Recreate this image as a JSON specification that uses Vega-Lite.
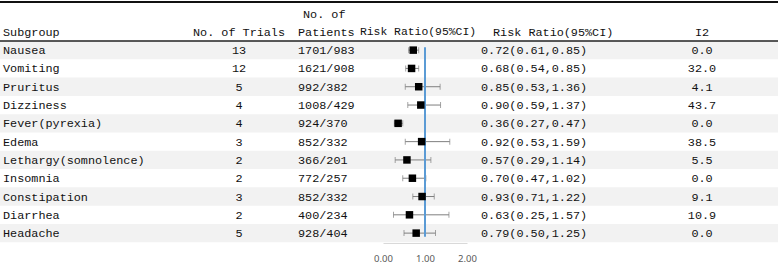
{
  "$schema": "https://vega.github.io/schema/vega-lite/v6.json",
  "padding": 0,
  "spacing": 0,
  "bounds": "flush",
  "background": "white",
  "datasets": {
    "rows": [
      {"row": 1, "subgroup": "Nausea", "trials": 13, "patients": "1701/983", "rr": 0.72, "lo": 0.61, "hi": 0.85, "ci": "0.72(0.61,0.85)", "i2": 0.0},
      {"row": 2, "subgroup": "Vomiting", "trials": 12, "patients": "1621/908", "rr": 0.68, "lo": 0.54, "hi": 0.85, "ci": "0.68(0.54,0.85)", "i2": 32.0},
      {"row": 3, "subgroup": "Pruritus", "trials": 5, "patients": "992/382", "rr": 0.85, "lo": 0.53, "hi": 1.36, "ci": "0.85(0.53,1.36)", "i2": 4.1},
      {"row": 4, "subgroup": "Dizziness", "trials": 4, "patients": "1008/429", "rr": 0.90, "lo": 0.59, "hi": 1.37, "ci": "0.90(0.59,1.37)", "i2": 43.7},
      {"row": 5, "subgroup": "Fever(pyrexia)", "trials": 4, "patients": "924/370", "rr": 0.36, "lo": 0.27, "hi": 0.47, "ci": "0.36(0.27,0.47)", "i2": 0.0},
      {"row": 6, "subgroup": "Edema", "trials": 3, "patients": "852/332", "rr": 0.92, "lo": 0.53, "hi": 1.59, "ci": "0.92(0.53,1.59)", "i2": 38.5},
      {"row": 7, "subgroup": "Lethargy(somnolence)", "trials": 2, "patients": "366/201", "rr": 0.57, "lo": 0.29, "hi": 1.14, "ci": "0.57(0.29,1.14)", "i2": 5.5},
      {"row": 8, "subgroup": "Insomnia", "trials": 2, "patients": "772/257", "rr": 0.70, "lo": 0.47, "hi": 1.02, "ci": "0.70(0.47,1.02)", "i2": 0.0},
      {"row": 9, "subgroup": "Constipation", "trials": 3, "patients": "852/332", "rr": 0.93, "lo": 0.71, "hi": 1.22, "ci": "0.93(0.71,1.22)", "i2": 9.1},
      {"row": 10, "subgroup": "Diarrhea", "trials": 2, "patients": "400/234", "rr": 0.63, "lo": 0.25, "hi": 1.57, "ci": "0.63(0.25,1.57)", "i2": 10.9},
      {"row": 11, "subgroup": "Headache", "trials": 5, "patients": "928/404", "rr": 0.79, "lo": 0.50, "hi": 1.25, "ci": "0.79(0.50,1.25)", "i2": 0.0}
    ]
  },
  "config": {
    "view": {"stroke": null},
    "text": {"font": "Liberation Mono", "fontSize": 11.8, "color": "#111", "baseline": "middle"}
  },
  "hconcat": [
    {
      "width": 188, "height": 243,
      "layer": [
        {"data": {"name": "rows"}, "transform": [{"filter": "datum.row % 2 == 1"}], "mark": {"type": "rect", "color": "#f2f2f2", "yOffset": -9.15, "y2Offset": 9.15}, "encoding": {"y": {"field": "row", "type": "quantitative", "scale": {"domain": [-1.74, 11.54], "reverse": true, "zero": false, "nice": false}, "axis": null}, "y2": {"field": "row"}}},
        {"data": {"values": [{}]}, "mark": {"type": "rect", "color": "#111", "yOffset": -1, "y2Offset": 1}, "encoding": {"y": {"datum": -1.63, "type": "quantitative"}, "y2": {"datum": -1.63}}},
        {"data": {"values": [{}]}, "mark": {"type": "rect", "color": "#222", "yOffset": -0.75, "y2Offset": 0.75}, "encoding": {"y": {"datum": 0.5, "type": "quantitative"}, "y2": {"datum": 0.5}}},
        {"data": {"values": [{"t": "Subgroup"}]}, "mark": {"type": "text", "align": "left"}, "encoding": {"x": {"value": 3}, "y": {"datum": 0, "type": "quantitative"}, "text": {"field": "t"}}},
        {"data": {"name": "rows"}, "mark": {"type": "text", "align": "left"}, "encoding": {"x": {"value": 3}, "y": {"field": "row", "type": "quantitative"}, "text": {"field": "subgroup"}}}
      ]
    },
    {
      "width": 104, "height": 243,
      "layer": [
        {"data": {"name": "rows"}, "transform": [{"filter": "datum.row % 2 == 1"}], "mark": {"type": "rect", "color": "#f2f2f2", "yOffset": -9.15, "y2Offset": 9.15}, "encoding": {"y": {"field": "row", "type": "quantitative", "scale": {"domain": [-1.74, 11.54], "reverse": true, "zero": false, "nice": false}, "axis": null}, "y2": {"field": "row"}}},
        {"data": {"values": [{}]}, "mark": {"type": "rect", "color": "#111", "yOffset": -1, "y2Offset": 1}, "encoding": {"y": {"datum": -1.63, "type": "quantitative"}, "y2": {"datum": -1.63}}},
        {"data": {"values": [{}]}, "mark": {"type": "rect", "color": "#222", "yOffset": -0.75, "y2Offset": 0.75}, "encoding": {"y": {"datum": 0.5, "type": "quantitative"}, "y2": {"datum": 0.5}}},
        {"data": {"values": [{"t": "No. of Trials"}]}, "mark": {"type": "text", "align": "left"}, "encoding": {"x": {"value": 5}, "y": {"datum": 0, "type": "quantitative"}, "text": {"field": "t"}}},
        {"data": {"name": "rows"}, "mark": {"type": "text", "align": "center"}, "encoding": {"x": {"value": 51}, "y": {"field": "row", "type": "quantitative"}, "text": {"field": "trials"}}}
      ]
    },
    {
      "width": 91, "height": 243,
      "layer": [
        {"data": {"name": "rows"}, "transform": [{"filter": "datum.row % 2 == 1"}], "mark": {"type": "rect", "color": "#f2f2f2", "yOffset": -9.15, "y2Offset": 9.15}, "encoding": {"y": {"field": "row", "type": "quantitative", "scale": {"domain": [-1.74, 11.54], "reverse": true, "zero": false, "nice": false}, "axis": null}, "y2": {"field": "row"}}},
        {"data": {"values": [{}]}, "mark": {"type": "rect", "color": "#111", "yOffset": -1, "y2Offset": 1}, "encoding": {"y": {"datum": -1.63, "type": "quantitative"}, "y2": {"datum": -1.63}}},
        {"data": {"values": [{}]}, "mark": {"type": "rect", "color": "#222", "yOffset": -0.75, "y2Offset": 0.75}, "encoding": {"y": {"datum": 0.5, "type": "quantitative"}, "y2": {"datum": 0.5}}},
        {"data": {"values": [{"t": "No. of"}]}, "mark": {"type": "text", "align": "left"}, "encoding": {"x": {"value": 11}, "y": {"datum": -1.0, "type": "quantitative"}, "text": {"field": "t"}}},
        {"data": {"values": [{"t": "Patients"}]}, "mark": {"type": "text", "align": "left"}, "encoding": {"x": {"value": 6}, "y": {"datum": 0, "type": "quantitative"}, "text": {"field": "t"}}},
        {"data": {"name": "rows"}, "mark": {"type": "text", "align": "left"}, "encoding": {"x": {"value": 6}, "y": {"field": "row", "type": "quantitative"}, "text": {"field": "patients"}}}
      ]
    },
    {
      "width": 84, "height": 243,
      "layer": [
        {"data": {"name": "rows"}, "transform": [{"filter": "datum.row % 2 == 1"}], "mark": {"type": "rect", "color": "#f2f2f2", "yOffset": -9.15, "y2Offset": 9.15}, "encoding": {"y": {"field": "row", "type": "quantitative", "scale": {"domain": [-1.74, 11.54], "reverse": true, "zero": false, "nice": false}, "axis": null}, "y2": {"field": "row"}}},
        {"data": {"values": [{}]}, "mark": {"type": "rect", "color": "#111", "yOffset": -1, "y2Offset": 1}, "encoding": {"y": {"datum": -1.63, "type": "quantitative"}, "y2": {"datum": -1.63}}},
        {"data": {"values": [{}]}, "mark": {"type": "rect", "color": "#222", "yOffset": -0.75, "y2Offset": 0.75}, "encoding": {"y": {"datum": 0.5, "type": "quantitative"}, "y2": {"datum": 0.5}}},
        {"data": {"values": [{"t": "Risk Ratio(95%CI)"}]}, "mark": {"type": "text", "align": "center", "fontSize": 11.4}, "encoding": {"x": {"value": 35}, "y": {"datum": 0, "type": "quantitative"}, "text": {"field": "t"}}},
        {"data": {"name": "rows"}, "mark": {"type": "rule", "color": "#7f7f7f", "strokeWidth": 1}, "encoding": {
          "x": {"field": "lo", "type": "quantitative", "scale": {"domain": [0, 2], "nice": false, "zero": false},
                "axis": {"values": [0, 1, 2], "format": ".2f", "ticks": false, "grid": false, "domainColor": "#d9d9d9", "labelColor": "#595959", "labelFont": "Noto Sans", "labelFontSize": 9.5, "labelPadding": 10, "title": null, "labelFlush": false}},
          "x2": {"field": "hi"},
          "y": {"field": "row", "type": "quantitative"}}},
        {"data": {"name": "rows"}, "mark": {"type": "tick", "orient": "vertical", "color": "#7f7f7f", "size": 6, "thickness": 1}, "encoding": {"x": {"field": "lo", "type": "quantitative"}, "y": {"field": "row", "type": "quantitative"}}},
        {"data": {"name": "rows"}, "mark": {"type": "tick", "orient": "vertical", "color": "#7f7f7f", "size": 6, "thickness": 1}, "encoding": {"x": {"field": "hi", "type": "quantitative"}, "y": {"field": "row", "type": "quantitative"}}},
        {"data": {"values": [{}]}, "mark": {"type": "rule", "color": "#5b9bd5", "strokeWidth": 2}, "encoding": {"x": {"datum": 1, "type": "quantitative"}, "y": {"datum": 0.84, "type": "quantitative"}, "y2": {"datum": 11.2}}},
        {"data": {"name": "rows"}, "mark": {"type": "square", "filled": true, "color": "#000", "opacity": 1, "size": 56}, "encoding": {"x": {"field": "rr", "type": "quantitative"}, "y": {"field": "row", "type": "quantitative"}}}
      ]
    },
    {
      "width": 183, "height": 243,
      "layer": [
        {"data": {"name": "rows"}, "transform": [{"filter": "datum.row % 2 == 1"}], "mark": {"type": "rect", "color": "#f2f2f2", "yOffset": -9.15, "y2Offset": 9.15}, "encoding": {"y": {"field": "row", "type": "quantitative", "scale": {"domain": [-1.74, 11.54], "reverse": true, "zero": false, "nice": false}, "axis": null}, "y2": {"field": "row"}}},
        {"data": {"values": [{}]}, "mark": {"type": "rect", "color": "#111", "yOffset": -1, "y2Offset": 1}, "encoding": {"y": {"datum": -1.63, "type": "quantitative"}, "y2": {"datum": -1.63}}},
        {"data": {"values": [{}]}, "mark": {"type": "rect", "color": "#222", "yOffset": -0.75, "y2Offset": 0.75}, "encoding": {"y": {"datum": 0.5, "type": "quantitative"}, "y2": {"datum": 0.5}}},
        {"data": {"values": [{"t": "Risk Ratio(95%CI)"}]}, "mark": {"type": "text", "align": "left"}, "encoding": {"x": {"value": 26}, "y": {"datum": 0, "type": "quantitative"}, "text": {"field": "t"}}},
        {"data": {"name": "rows"}, "mark": {"type": "text", "align": "left"}, "encoding": {"x": {"value": 14}, "y": {"field": "row", "type": "quantitative"}, "text": {"field": "ci"}}}
      ]
    },
    {
      "width": 128, "height": 243,
      "layer": [
        {"data": {"name": "rows"}, "transform": [{"filter": "datum.row % 2 == 1"}], "mark": {"type": "rect", "color": "#f2f2f2", "yOffset": -9.15, "y2Offset": 9.15}, "encoding": {"y": {"field": "row", "type": "quantitative", "scale": {"domain": [-1.74, 11.54], "reverse": true, "zero": false, "nice": false}, "axis": null}, "y2": {"field": "row"}}},
        {"data": {"values": [{}]}, "mark": {"type": "rect", "color": "#111", "yOffset": -1, "y2Offset": 1}, "encoding": {"y": {"datum": -1.63, "type": "quantitative"}, "y2": {"datum": -1.63}}},
        {"data": {"values": [{}]}, "mark": {"type": "rect", "color": "#222", "yOffset": -0.75, "y2Offset": 0.75}, "encoding": {"y": {"datum": 0.5, "type": "quantitative"}, "y2": {"datum": 0.5}}},
        {"data": {"values": [{"t": "I2"}]}, "mark": {"type": "text", "align": "center"}, "encoding": {"x": {"value": 52}, "y": {"datum": 0, "type": "quantitative"}, "text": {"field": "t"}}},
        {"data": {"name": "rows"}, "mark": {"type": "text", "align": "center"}, "encoding": {"x": {"value": 52}, "y": {"field": "row", "type": "quantitative"}, "text": {"field": "i2", "format": ".1f"}}}
      ]
    }
  ]
}
